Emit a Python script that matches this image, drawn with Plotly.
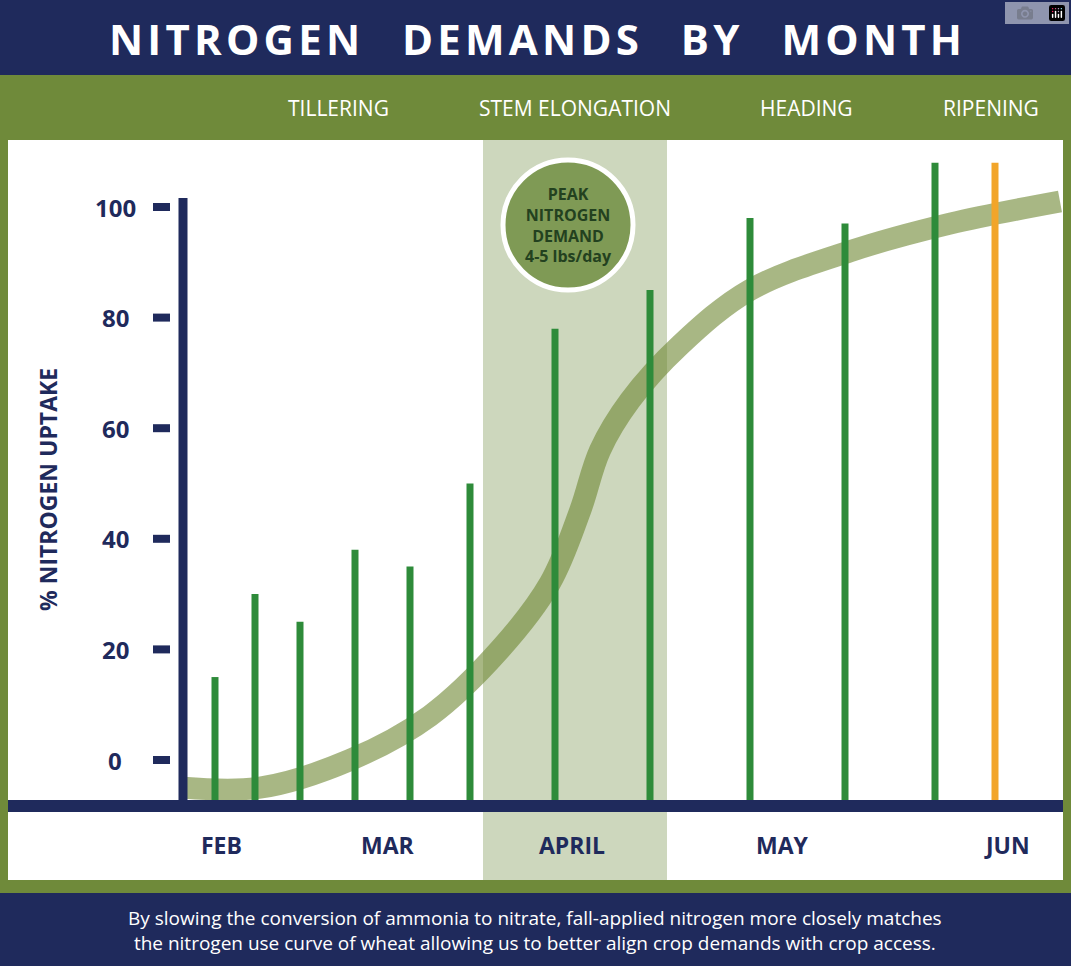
import plotly.graph_objects as go

W, H = 1071, 966
# pixel helpers: y value -> axis units (0 at px760, 100 at px207)
def vy(px): return (760 - px) / 5.53

months = ["FEB", "MAR", "APRIL", "MAY", "JUN"]
month_x = [221, 388, 572, 782, 1007]
stages = ["TILLERING", "STEM ELONGATION", "HEADING", "RIPENING"]
stage_x = [338, 575, 806, 991]
yticks = [0, 20, 40, 60, 80, 100]
curve_x = [183, 260, 350, 430, 500, 550, 580, 600, 630, 680, 750, 850, 950, 1060]
curve_y = [-5, -5, 0, 8, 20, 32, 45, 56, 65, 75, 85, 92, 97, 101]
stem_x = [215, 255, 300, 355, 410, 470, 555, 650, 750, 845, 935, 995]
stem_top = [15, 30, 25, 38, 35, 50, 78, 85, 98, 97, 108, 108]
stem_col = ["#2e8b3a"] * 11 + ["#f2a52a"]

navy = "#1f2a5c"
olive = "#6f8a3a"

fig = go.Figure()
fig.add_trace(go.Scatter(x=curve_x, y=curve_y, mode="lines",
                         line=dict(color="rgba(110,135,50,0.6)", width=22, shape="spline"),
                         hoverinfo="skip"))
for sx, st, c in zip(stem_x, stem_top, stem_col):
    fig.add_trace(go.Scatter(x=[sx, sx], y=[vy(800), st], mode="lines",
                             line=dict(color=c, width=7), hoverinfo="skip"))

shapes = [
    dict(type="rect", xref="x", yref="y", x0=0, x1=W, y0=vy(966), y1=vy(0), fillcolor=olive, line_width=0, layer="below"),
    dict(type="rect", xref="x", yref="y", x0=0, x1=W, y0=vy(75), y1=vy(0), fillcolor=navy, line_width=0, layer="below"),
    dict(type="rect", xref="x", yref="y", x0=8, x1=1063, y0=vy(880), y1=vy(140), fillcolor="white", line_width=0, layer="below"),
    dict(type="rect", xref="x", yref="y", x0=0, x1=W, y0=vy(966), y1=vy(893), fillcolor=navy, line_width=0, layer="below"),
    dict(type="rect", xref="x", yref="y", x0=483, x1=667, y0=vy(880), y1=vy(140), fillcolor="rgba(130,155,90,0.4)", line_width=0, layer="below"),
    dict(type="line", xref="x", yref="y", x0=183, x1=183, y0=vy(805), y1=vy(198), line=dict(color=navy, width=9)),
    dict(type="rect", xref="x", yref="y", x0=8, x1=1063, y0=vy(812), y1=vy(800), fillcolor=navy, line_width=0),
    dict(type="circle", xref="x", yref="y", x0=503, x1=633, y0=vy(290), y1=vy(160), fillcolor="#7f9a55", line=dict(color="white", width=5)),
]
for t in yticks:
    shapes.append(dict(type="line", xref="x", yref="y", x0=153, x1=170, y0=t, y1=t, line=dict(color=navy, width=8)))

ann = [dict(x=535, y=vy(38), text="N I T R O G E N   D E M A N D S   B Y   M O N T H".replace("   ", "\u2003").replace(" ", "\u200a"),
            showarrow=False, font=dict(family="Open Sans", size=42, color="white", weight="bold"))]
for s, x in zip(stages, stage_x):
    ann.append(dict(x=x, y=vy(108), text=s, showarrow=False, font=dict(family="Open Sans", size=21, color="white")))
for m, x in zip(months, month_x):
    ann.append(dict(x=x, y=vy(845), text=m, showarrow=False, font=dict(family="Open Sans", size=23, color=navy, weight="bold")))
for t in yticks:
    ann.append(dict(x=115, y=t, text=str(t), showarrow=False, font=dict(family="Open Sans", size=24, color=navy, weight="bold")))
ann.append(dict(x=48, y=vy(490), text="% NITROGEN UPTAKE", textangle=-90, showarrow=False,
                font=dict(family="Open Sans", size=23, color=navy, weight="bold")))
ann.append(dict(x=568, y=vy(225), text="PEAK<br>NITROGEN<br>DEMAND<br>4-5 lbs/day", showarrow=False,
                font=dict(family="Open Sans", size=16, color="#23411f", weight="bold")))
ann.append(dict(x=535, y=vy(930), text="By slowing the conversion of ammonia to nitrate, fall-applied nitrogen more closely matches<br>the nitrogen use curve of wheat allowing us to better align crop demands with crop access.",
                showarrow=False, font=dict(family="Open Sans", size=19, color="white")))

fig.update_layout(width=W, height=H, margin=dict(l=0, r=0, t=0, b=0), showlegend=False,
                  plot_bgcolor="white", paper_bgcolor="white", shapes=shapes, annotations=ann,
                  xaxis=dict(range=[0, W], visible=False, fixedrange=True),
                  yaxis=dict(range=[vy(966), vy(0)], visible=False, fixedrange=True))
fig.write_html("out.html", post_script="document.body.style.margin='0';")
